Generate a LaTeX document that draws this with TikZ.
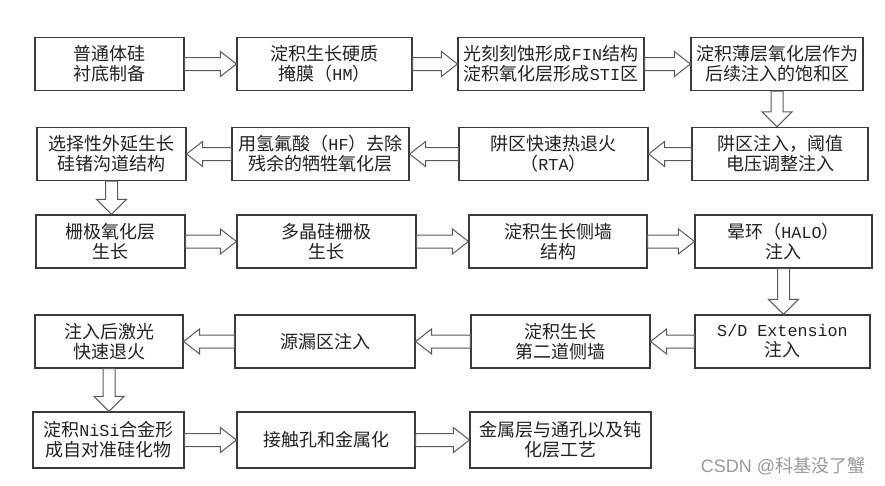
\documentclass[tikz,border=0pt]{standalone}
\usepackage{fontspec}
\setmainfont{Noto Sans CJK SC}
\newfontfamily\monof[Scale=0.93]{Liberation Mono}
\newfontfamily\wmfont{Liberation Sans}
\usetikzlibrary{calc}
\definecolor{boxc}{HTML}{3A3A3A}
\definecolor{arrc}{HTML}{5A5A5A}
\definecolor{txtc}{HTML}{222222}
\definecolor{wmc}{HTML}{9A9A9A}
\tikzset{
  box/.style={draw=boxc, line width=1.2pt, fill=white, align=center, inner sep=0pt,
    text=txtc, font=\fontsize{18}{20}\selectfont, minimum height=53pt},
  blockarrow/.style={draw=arrc, line width=1pt, fill=white, line join=miter},
}
\newcommand\arrR[2]{\draw[blockarrow] ($(#1.east)+(0,6.5)$) -- ($(#2.west)+(-16,6.5)$) -- ($(#2.west)+(-16,12.5)$) -- (#2.west) -- ($(#2.west)+(-16,-12.5)$) -- ($(#2.west)+(-16,-6.5)$) -- ($(#1.east)+(0,-6.5)$) -- cycle;}
\newcommand\arrL[2]{\draw[blockarrow] ($(#1.west)+(0,6.5)$) -- ($(#2.east)+(16,6.5)$) -- ($(#2.east)+(16,12.5)$) -- (#2.east) -- ($(#2.east)+(16,-12.5)$) -- ($(#2.east)+(16,-6.5)$) -- ($(#1.west)+(0,-6.5)$) -- cycle;}
\newcommand\arrD[2]{\coordinate (tip) at (#1.south |- #2.north);
  \draw[blockarrow] ($(#1.south)+(-6,0)$) -- ($(tip)+(-6,-15)$) -- ($(tip)+(-15,-15)$) -- (tip) -- ($(tip)+(15,-15)$) -- ($(tip)+(6,-15)$) -- ($(#1.south)+(6,0)$) -- cycle;}
\begin{document}
\begin{tikzpicture}[x=1pt,y=-1pt]
\useasboundingbox (0,0) rectangle (885,485);
\fill[white] (0,0) rectangle (885,485);
% row 1
\node[box, minimum width=149pt] (n11) at (109.5,64) {普通体硅\\衬底制备};
\node[box, minimum width=175pt] (n12) at (324.5,64) {淀积生长硬质\\掩膜（{\monof HM}）};
\node[box, minimum width=186pt] (n13) at (551,64) {光刻刻蚀形成{\monof FIN}结构\\淀积氧化层形成{\monof STI}区};
\node[box, minimum width=172pt] (n14) at (777,64) {淀积薄层氧化层作为\\后续注入的饱和区};
% row 2
\node[box, minimum width=149pt] (n21) at (111.5,154) {选择性外延生长\\硅锗沟道结构};
\node[box, minimum width=177pt] (n22) at (320.5,154) {用氢氟酸（{\monof HF}）去除\\残余的牺牲氧化层};
\node[box, minimum width=189pt] (n23) at (553.5,154) {阱区快速热退火\\（{\monof RTA}）};
\node[box, minimum width=176pt] (n24) at (780,154) {阱区注入，阈值\\电压调整注入};
% row 3
\node[box, minimum width=149pt] (n31) at (110.5,241.5) {栅极氧化层\\生长};
\node[box, minimum width=179pt] (n32) at (326.5,241.5) {多晶硅栅极\\生长};
\node[box, minimum width=178pt] (n33) at (558,241.5) {淀积生长侧墙\\结构};
\node[box, minimum width=177pt] (n34) at (783.5,241.5) {晕环（{\monof HALO}）\\注入};
% row 4
\node[box, minimum width=148pt] (n41) at (109,341.5) {注入后激光\\快速退火};
\node[box, minimum width=180pt] (n42) at (325,341.5) {源漏区注入};
\node[box, minimum width=179pt] (n43) at (560.5,341.5) {淀积生长\\第二道侧墙};
\node[box, minimum width=175pt] (n44) at (782.5,341.5) {{\monof S/D Extension}\\注入};
% row 5
\node[box, minimum width=151pt, minimum height=56pt] (n51) at (108.5,440) {淀积{\monof NiSi}合金形\\成自对准硅化物};
\node[box, minimum width=178pt, minimum height=56pt] (n52) at (326,440) {接触孔和金属化};
\node[box, minimum width=181pt, minimum height=56pt] (n53) at (560.5,440) {金属层与通孔以及钝\\化层工艺};
% arrows
\arrR{n11}{n12}
\arrR{n12}{n13}
\arrR{n13}{n14}
\arrD{n14}{n24}
\arrL{n24}{n23}
\arrL{n23}{n22}
\arrL{n22}{n21}
\arrD{n21}{n31}
\arrR{n31}{n32}
\arrR{n32}{n33}
\arrR{n33}{n34}
\arrD{n34}{n44}
\arrL{n44}{n43}
\arrL{n43}{n42}
\arrL{n42}{n41}
\arrD{n41}{n51}
\arrR{n51}{n52}
\arrR{n52}{n53}
% watermark
\node[text=wmc, font=\fontsize{18}{20}\selectfont, inner sep=0pt] (wm) at (783,466) {{\wmfont CSDN @}科基没了蟹};
\end{tikzpicture}
\end{document}
